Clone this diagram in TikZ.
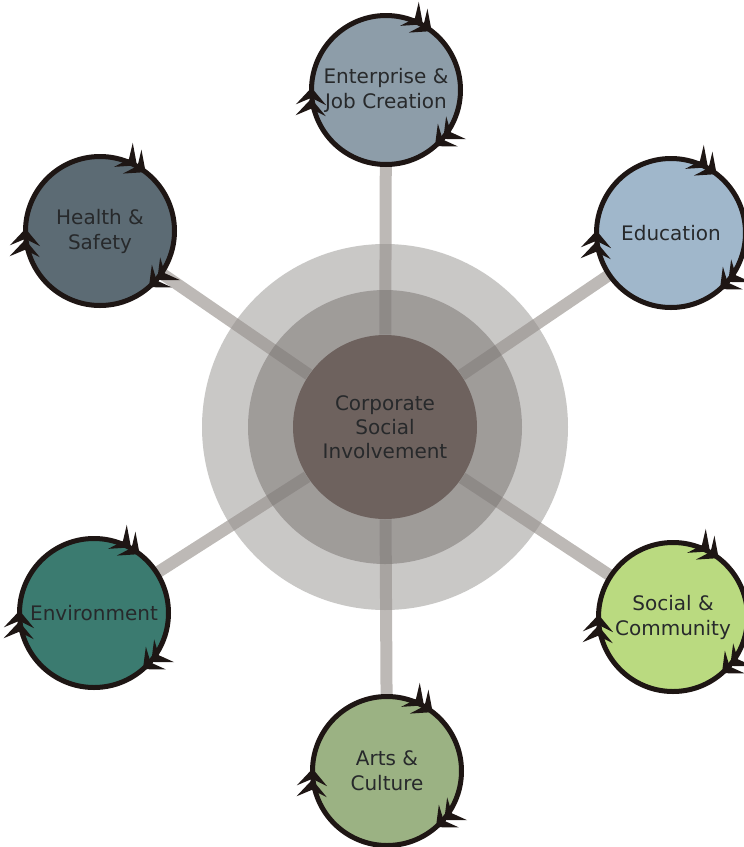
\documentclass[tikz,border=0pt]{standalone}
\usepackage{fontspec}
\setmainfont{DejaVu Sans}
\usetikzlibrary{arrows.meta,decorations.markings,backgrounds}

\definecolor{rimcol}{HTML}{1E1614}
\definecolor{spokecol}{HTML}{BDB9B6}
\definecolor{outercol}{RGB}{148,145,142}
\definecolor{middlecol}{RGB}{118,113,110}
\definecolor{hubcol}{HTML}{6E625E}
\definecolor{txtcol}{HTML}{27292B}
\definecolor{entcol}{HTML}{8D9DA9}
\definecolor{educol}{HTML}{A0B7CB}
\definecolor{heacol}{HTML}{5C6B74}
\definecolor{envcol}{HTML}{3B7B70}
\definecolor{soccol}{HTML}{BADA80}
\definecolor{artcol}{HTML}{9BB283}

\tikzset{
  Turn/.tip={Stealth[length=8.5pt,width=15pt,inset=3.4pt,sep=-3pt] Stealth[length=8.5pt,width=15pt,inset=3.4pt]},
  area/.style={circle, inner sep=0pt, minimum size=74.5pt, text=txtcol, align=center, font=\fontsize{10}{12.5}\selectfont},
  rim/.style={draw=rimcol, line width=2.5pt, postaction={decorate},
    decoration={markings,
      mark=at position 0.145 with {\arrowreversed{Turn}},
      mark=at position 0.495 with {\arrowreversed{Turn}},
      mark=at position 0.864 with {\arrowreversed{Turn}}}},
  spoke/.style={draw=spokecol, line width=6pt},
  hub/.style={circle, inner sep=0pt, minimum size=92pt, fill=hubcol, text=txtcol, align=center, font=\fontsize{10}{12}\selectfont}
}

\begin{document}
\begin{tikzpicture}[x=0.5pt,y=0.5pt]
\useasboundingbox (0,0) rectangle (744,-847);

\node (csi) [hub] at (385,-427) {Corporate\\Social\\Involvement};

\node (ent) [area, fill=entcol] at (386,-90) {Enterprise \&\\Job Creation};
\node (edu) [area, fill=educol] at (671,-233) {Education};
\node (hea) [area, fill=heacol] at (100,-231) {Health \&\\Safety};
\node (env) [area, fill=envcol] at (94,-613) {Environment};
\node (soc) [area, fill=soccol] at (673,-617) {Social \&\\Community};
\node (art) [area, fill=artcol] at (387,-771) {Arts \&\\Culture};

\begin{scope}[on background layer]
\draw [spoke] (csi) -- (ent);
\draw [spoke] (csi) -- (edu);
\draw [spoke] (csi) -- (hea);
\draw [spoke] (csi) -- (env);
\draw [spoke] (csi) -- (soc);
\draw [spoke] (csi) -- (art);
\fill [outercol, opacity=0.5] (csi.center) circle [radius=91.5pt];
\fill [middlecol, opacity=0.5] (csi.center) circle [radius=68.5pt];
\end{scope}

\draw [rim] (ent.center) circle [radius=37.25pt];
\draw [rim] (edu.center) circle [radius=37.25pt];
\draw [rim] (hea.center) circle [radius=37.25pt];
\draw [rim] (env.center) circle [radius=37.25pt];
\draw [rim] (soc.center) circle [radius=37.25pt];
\draw [rim] (art.center) circle [radius=37.25pt];
\end{tikzpicture}
\end{document}
